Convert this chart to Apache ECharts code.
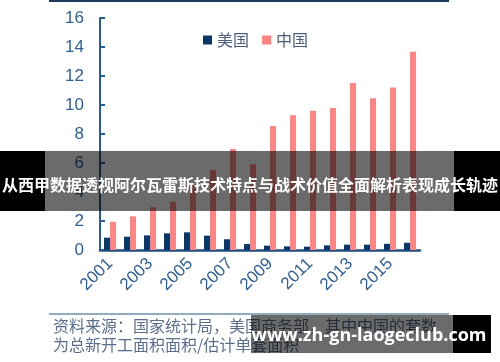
<!DOCTYPE html>
<html>
<head>
<meta charset="utf-8">
<script src="https://cdn.jsdelivr.net/npm/echarts@6/dist/echarts.min.js"></script>
<style>
html,body{margin:0;padding:0;background:#fff;}
#c{width:500px;height:362px;}
</style>
</head>
<body>
<div id="c"></div>
<script>
var years = ['2001','2002','2003','2004','2005','2006','2007','2008','2009','2010','2011','2012','2013','2014','2015','2016'];
var usValues = [0.85,0.92,1.01,1.15,1.22,0.99,0.74,0.41,0.30,0.25,0.23,0.32,0.37,0.37,0.43,0.50];
var cnValues = [1.95,2.32,2.95,3.33,4.48,5.52,6.97,5.91,8.55,9.29,9.61,9.79,11.52,10.46,11.20,13.68];
var seriesNames = ['美国','中国'];
var bannerText = '从西甲数据透视阿尔瓦雷斯技术特点与战术价值全面解析表现成长轨迹';
var sourceLine1 = '资料来源：国家统计局，美国商务部，其中中国的套数';
var sourceLine2 = '为总新开工面积面积/估计单套面积';
var watermark = 'www.zh-gn-laogeclub.com';

var chart = echarts.init(document.getElementById('c'), null, {renderer:'canvas'});
var axisColor = '#2a5c91';
var labelColor = '#2f6096';
chart.setOption({
  animation: false,
  backgroundColor: '#ffffff',
  grid: {left: 100, right: 80, top: 18, bottom: 112, containLabel: false},
  legend: {
    data: seriesNames,
    left: 198, top: 27,
    icon: 'rect', itemWidth: 9, itemHeight: 9, itemGap: 13,
    textStyle: {fontSize: 16, color: '#4d5d7c', fontFamily: 'Noto Sans CJK SC'}
  },
  xAxis: {
    type: 'category',
    data: years,
    axisLine: {show: true, lineStyle: {color: '#1f4f80', width: 2.5}},
    axisTick: {show: false},
    axisLabel: {rotate: 45, interval: 1, fontSize: 17, color: labelColor, margin: 11, fontFamily: 'Liberation Sans'},
    splitLine: {show: false}
  },
  yAxis: {
    type: 'value',
    min: 0, max: 16, interval: 2,
    axisLine: {show: true, lineStyle: {color: axisColor, width: 2}},
    axisTick: {show: true, inside: true, length: 5, lineStyle: {color: axisColor, width: 2}},
    axisLabel: {fontSize: 17, color: labelColor, margin: 16, fontFamily: 'Liberation Sans'},
    splitLine: {show: false}
  },
  series: [
    {name: seriesNames[0], type: 'bar', data: usValues, barWidth: 6, barGap: '0%', itemStyle: {color: '#06386a'}},
    {name: seriesNames[1], type: 'bar', data: cnValues, barWidth: 6, barGap: '0%', itemStyle: {color: '#ff8585'}}
  ],
  graphic: [
    {type: 'line', z: 100, shape: {x1: 49, y1: 1, x2: 449, y2: 1}, style: {stroke: '#1b3d5e', lineWidth: 2}},
    {type: 'line', z: 100, shape: {x1: 49, y1: 314, x2: 449, y2: 314}, style: {stroke: '#6f8faa', lineWidth: 1.5}},
    {type: 'text', z: 100, left: 53, top: 318, style: {text: sourceLine1, fontSize: 16, fill: '#5b6e8c', fontFamily: 'Noto Sans CJK SC'}},
    {type: 'text', z: 100, left: 53, top: 337, style: {text: sourceLine2, fontSize: 16, fill: '#5b6e8c', fontFamily: 'Noto Sans CJK SC'}},
    {type: 'rect', z: 200, shape: {x: 0, y: 151, width: 45, height: 60}, style: {fill: '#000000'}},
    {type: 'rect', z: 200, shape: {x: 454, y: 151, width: 46, height: 60}, style: {fill: '#000000'}},
    {type: 'rect', z: 200, shape: {x: 45, y: 151, width: 409, height: 60}, style: {fill: 'rgba(0,0,0,0.58)'}},
    {type: 'text', z: 201, x: 250, y: 185, style: {text: bannerText, fontSize: 16, fontWeight: 'bold', fill: '#ffffff', align: 'center', verticalAlign: 'middle', fontFamily: 'Noto Sans CJK SC'}},
    {type: 'rect', z: 200, shape: {x: 251, y: 315, width: 202, height: 38}, style: {fill: 'rgba(0,0,0,0.58)'}},
    {type: 'rect', z: 200, shape: {x: 453, y: 315, width: 38, height: 38}, style: {fill: '#000000'}},
    {type: 'text', z: 201, x: 369, y: 336, style: {text: watermark, fontSize: 18, fontWeight: 'bold', fill: '#ffffff', align: 'center', verticalAlign: 'middle', fontFamily: 'Open Sans'}}
  ]
});
</script>
</body>
</html>
